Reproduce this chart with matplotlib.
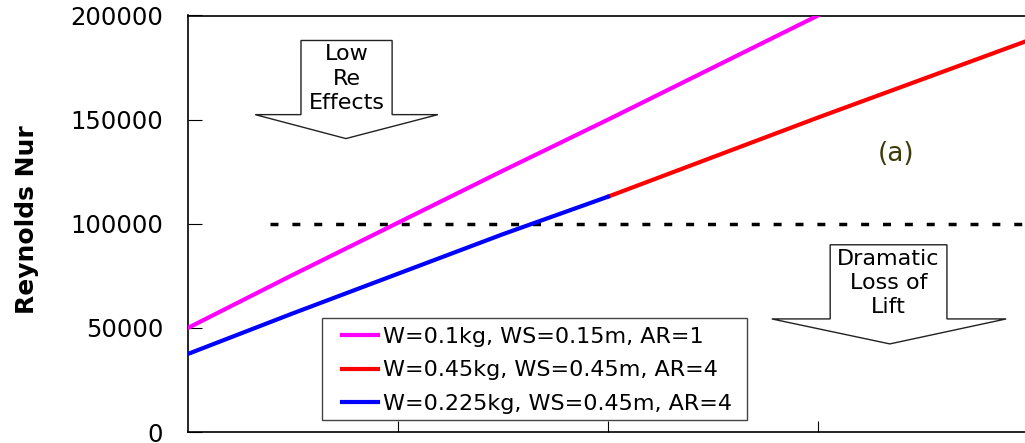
import matplotlib.pyplot as plt
from matplotlib.patches import Polygon, Rectangle

# x axis has no labels in the source, use an arbitrary 0..20 scale
x_light = [0, 2.5, 5, 7.5, 10, 12.5, 15]
re_light = [50000, 75500, 100500, 125500, 150000, 175000, 200000]

x_heavy = [10, 12.5, 15, 17.5, 20]
re_heavy = [113000, 132000, 151000, 169500, 188000]

x_mid = [0, 2.5, 5, 7.5, 10]
re_mid = [37500, 57000, 76000, 95000, 113000]

labels = ["W=0.1kg, WS=0.15m, AR=1",
          "W=0.45kg, WS=0.45m, AR=4",
          "W=0.225kg, WS=0.45m, AR=4"]
colors = ["#ff00ff", "#ff0000", "#0000ff"]

re_limit = 100000
limit_x = [1.95, 20]

FONT = "DejaVu Sans"


def block_arrow(ax, x0, x1, y_top, y_neck, hx0, hx1, tip_x, tip_y, text, ty):
    pts = [(x0, y_top), (x1, y_top), (x1, y_neck), (hx1, y_neck),
           (tip_x, tip_y), (hx0, y_neck), (x0, y_neck)]
    ax.add_patch(Polygon(pts, closed=True, facecolor="white",
                         edgecolor="#222222", lw=1.0, zorder=4))
    ax.text((x0 + x1) / 2, ty, text, ha="center", va="center",
            fontsize=16, family=FONT, linespacing=1.26, zorder=5)


fig = plt.figure(figsize=(10.25, 4.43), dpi=100)
ax = fig.add_axes([188 / 1025, 11 / 443, 840 / 1025, 416.5 / 443])

ax.plot(x_light, re_light, color=colors[0], lw=3, label=labels[0], zorder=3)
ax.plot(x_heavy, re_heavy, color=colors[1], lw=3, label=labels[1], zorder=3)
ax.plot(x_mid, re_mid, color=colors[2], lw=3, label=labels[2], zorder=3)
ax.plot(limit_x, [re_limit, re_limit], color="black", lw=2.5,
        dashes=(2.3, 4.0), zorder=2)

ax.set_xlim(0, 20)
ax.set_ylim(0, 200000)
ax.set_yticks([0, 50000, 100000, 150000, 200000])
ax.set_yticklabels(["0", "50000", "100000", "150000", "200000"],
                   fontsize=17.5, family=FONT)
ax.set_xticks([5, 10, 15])
ax.set_xticklabels([])
ax.tick_params(axis="y", direction="in", length=10, pad=18)
ax.tick_params(axis="x", direction="in", length=8)
for s in ax.spines.values():
    s.set_linewidth(1.2)

ax.set_ylabel("Reynolds Nur", fontsize=18, fontweight="bold", family=FONT)
ax.yaxis.set_label_coords(-0.177, 0.511)

ax.text(16.85, 133500, "(a)", fontsize=19, color="#3d3a0a", family=FONT,
        ha="center", va="center")

block_arrow(ax, 2.69, 4.86, 188000, 152400, 1.6, 5.95, 3.76, 140900,
            "Low\nRe\nEffects", 169700)
block_arrow(ax, 15.29, 18.07, 89900, 54300, 13.9, 19.48, 16.71, 42300,
            "Dramatic\nLoss of\nLift", 71600)

# legend frame drawn by hand, it is wider than matplotlib's own padding gives
ax.add_patch(Rectangle((0.1595, 0.0288), 0.506, 0.2449, transform=ax.transAxes,
                       facecolor="white", edgecolor="#444444", lw=1.0,
                       zorder=5))
leg = ax.legend(loc="center left", bbox_to_anchor=(0.1833, 0.1477),
                frameon=False, prop={"family": FONT, "size": 16},
                handlelength=1.62, handletextpad=0.22, labelspacing=0.62,
                borderpad=0, borderaxespad=0)
leg.set_zorder(6)

fig.savefig("out.png", dpi=100)
